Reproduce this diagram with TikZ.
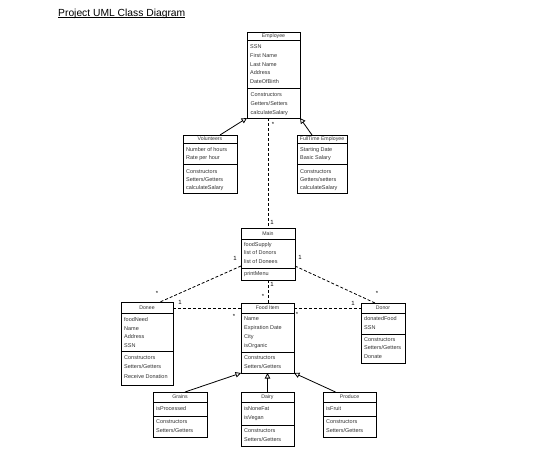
\documentclass[tikz,border=0pt]{standalone}
\usepackage{fontspec}
\setmainfont{Liberation Sans}
\usetikzlibrary{arrows.meta}
\definecolor{txt}{HTML}{333333}
\tikzset{
  clsbox/.style={draw=black, line width=0.8pt, inner sep=0pt, outer sep=0pt},
  sepline/.style={draw=black, line width=0.9pt},
  clstitle/.style={inner sep=0pt, font=\fontsize{5.2}{6}\selectfont, text=txt, text height=4pt, text depth=1pt},
  rowtxt/.style={anchor=west, inner sep=0pt, font=\fontsize{5.5}{6}\selectfont, text=txt, text height=4pt, text depth=1pt},
  multlbl/.style={inner sep=0pt, font=\fontsize{6}{7}\selectfont, text=black},
  dep/.style={draw=black, line width=0.8pt, dash pattern=on 3pt off 2pt},
  inh/.style={draw=black, line width=0.8pt, -{Triangle[open,length=5.5pt,width=5.5pt]}}
}
\newcommand\umlcls[8]{%
  \node[clsbox, minimum width={(#4-#2)*1pt}, minimum height={(#5-#3)*1pt}, anchor=north west] (#1) at (#2,#3) {};
  \draw[sepline] (#2,#6) -- (#4,#6);
  \draw[sepline] (#2,#7) -- (#4,#7);
  \node[clstitle] (#1-t) at ({(#2+#4)/2},{(#3+#6)/2}) {#8};
}
\newcommand\rw[4]{\node[rowtxt] (#1) at (#2,#3) {#4};}
\begin{document}
\begin{tikzpicture}[x=1pt,y=-1pt]
\useasboundingbox[fill=white] (0,0) rectangle (537,448);
% title
\node[anchor=base west, inner sep=0pt, font=\fontsize{10.3}{12}\selectfont] (title) at (58,16.5) {Project UML Class Diagram};
\draw[line width=0.7pt] ([yshift=-1.2pt]title.base west) -- ([yshift=-1.2pt]title.base east);

% Employee
\umlcls{emp}{247}{32}{300}{118}{40}{88}{Employee}
\rw{e1}{250}{47}{SSN}
\rw{e2}{250}{56}{First Name}
\rw{e3}{250}{64.5}{Last Name}
\rw{e4}{250}{73}{Address}
\rw{e5}{250}{82}{DateOfBirth}
\rw{e6}{250.5}{95}{Constructors}
\rw{e7}{250.5}{104}{Getters/Setters}
\rw{e8}{250.5}{113}{calculateSalary}

% Volunteers
\umlcls{vol}{183}{135}{237}{193}{143}{164}{Volunteers}
\rw{v1}{186}{150}{Number of hours}
\rw{v2}{186}{158}{Rate per hour}
\rw{v3}{186}{172}{Constructors}
\rw{v4}{186}{180}{Setters/Getters}
\rw{v5}{186}{188}{calculateSalary}

% FullTime Employee
\umlcls{ft}{297}{135}{347}{193}{143}{164}{FullTime Employee}
\rw{f1}{300}{150}{Starting Date}
\rw{f2}{300}{158}{Basic Salary}
\rw{f3}{300}{172}{Constructors}
\rw{f4}{300}{180}{Getters/setters}
\rw{f5}{300}{188}{calculateSalary}

% Main
\umlcls{main}{241}{228}{295}{280}{239}{268}{Main}
\rw{m1}{244}{245}{foodSupply}
\rw{m2}{244}{253}{list of Donors}
\rw{m3}{244}{262}{list of Donees}
\rw{m4}{244}{274}{printMenu}

% Donee
\umlcls{donee}{121}{302}{173}{385}{313}{351}{Donee}
\rw{d1}{124}{320}{foodNeed}
\rw{d2}{124}{328.5}{Name}
\rw{d3}{124}{337}{Address}
\rw{d4}{124}{346}{SSN}
\rw{d5}{124}{358}{Constructors}
\rw{d6}{124}{367}{Setters/Getters}
\rw{d7}{124}{377}{Receive Donation}

% Food Item
\umlcls{food}{241}{303}{294}{373}{313}{352}{Food Item}
\rw{fi1}{244}{319}{Name}
\rw{fi2}{244}{328}{Expiration Date}
\rw{fi3}{244}{337}{City}
\rw{fi4}{244}{346}{isOrganic}
\rw{fi5}{244}{358}{Constructors}
\rw{fi6}{244}{367}{Setters/Getters}

% Donor
\umlcls{donor}{361}{303}{405}{363}{313}{334}{Donor}
\rw{o1}{364}{319}{donatedFood}
\rw{o2}{364}{328}{SSN}
\rw{o3}{364}{339.5}{Constructors}
\rw{o4}{364}{348}{Setters/Getters}
\rw{o5}{364}{357}{Donate}

% Grains
\umlcls{grains}{153}{392}{207}{437}{402}{416}{Grains}
\rw{g1}{156}{409}{isProcessed}
\rw{g2}{156}{422}{Constructors}
\rw{g3}{156}{431}{Setters/Getters}

% Dairy
\umlcls{dairy}{241}{392}{294}{446}{402}{425}{Dairy}
\rw{y1}{244}{409}{isNoneFat}
\rw{y2}{244}{418}{isVegan}
\rw{y3}{244}{431}{Constructors}
\rw{y4}{244}{440}{Setters/Getters}

% Produce
\umlcls{produce}{323}{392}{376}{437}{402}{416}{Produce}
\rw{p1}{326}{409}{isFruit}
\rw{p2}{326}{422}{Constructors}
\rw{p3}{326}{431}{Setters/Getters}

% inheritance
\draw[inh] ([xshift=10pt]vol.north) -- (emp.south west);
\draw[inh] ([xshift=-10pt]ft.north) -- (emp.south east);
\draw[inh] ([xshift=5pt]grains.north) -- (food.south west);
\draw[inh] (dairy.north) -- (food.south);
\draw[inh] ([xshift=-14pt]produce.north) -- (food.south east);

% associations
\draw[dep] (main.north |- emp.south) -- (main.north);
\draw[dep] (main.south) -- (main.south |- food.north);
\draw[dep] ([yshift=-38pt]main.north west) -- ([xshift=13pt]donee.north);
\draw[dep] ([yshift=-38pt]main.north east) -- ([xshift=-8pt]donor.north);
\draw[dep] ([yshift=-6pt]donee.north east) -- ([yshift=-6pt]donee.north east -| food.west);
\draw[dep] ([yshift=-5pt]food.north east) -- ([yshift=-5pt]food.north east -| donor.west);

% multiplicities
\node[multlbl] (k1) at (273,124) {*};
\node[multlbl] (k2) at (272,222) {1};
\node[multlbl] (k3) at (235,258) {1};
\node[multlbl] (k4) at (157,293) {*};
\node[multlbl] (k5) at (300,257) {1};
\node[multlbl] (k6) at (377,293) {*};
\node[multlbl] (k7) at (272,284) {1};
\node[multlbl] (k8) at (263,296) {*};
\node[multlbl] (k9) at (180,302) {1};
\node[multlbl] (k10) at (234,316) {*};
\node[multlbl] (k11) at (297,314) {*};
\node[multlbl] (k12) at (353,303) {1};
\end{tikzpicture}
\end{document}
